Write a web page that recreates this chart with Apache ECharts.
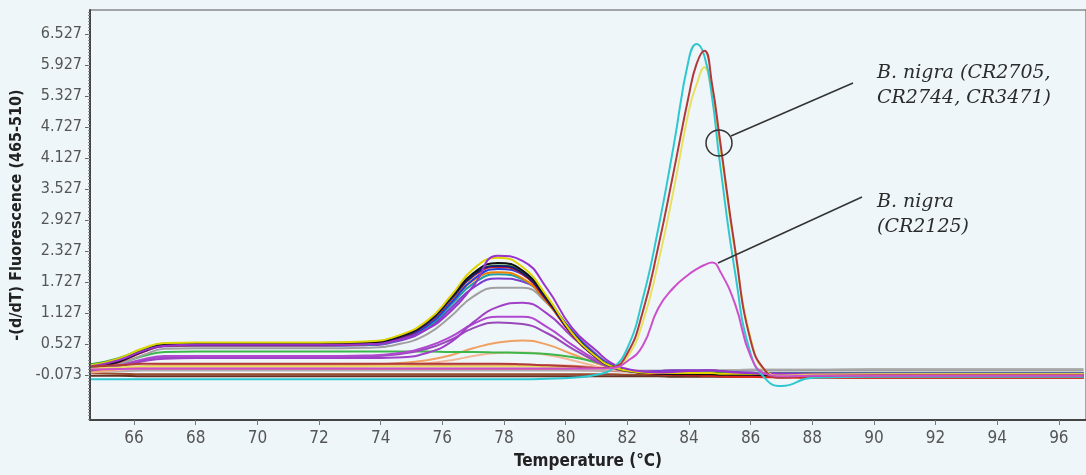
<!DOCTYPE html>
<html>
<head>
<meta charset="utf-8">
<script src="https://cdn.jsdelivr.net/npm/echarts@6/dist/echarts.min.js"></script>
<style>
html, body { margin: 0; padding: 0; background: #eff6fa; }
#chart { width: 1086px; height: 475px; }
</style>
</head>
<body>
<div id="chart"></div>
<script>
// melting temperatures (°C) shared by every curve
var temps = [64.6, 65.5, 66.3, 67.0, 68, 70, 72, 73.5, 74.5, 75.5, 76.3, 77, 77.8, 78.6, 79.4, 80.2, 81, 81.5,
	82, 82.5, 83, 83.5, 84, 84.25, 84.5, 84.75, 85, 85.5, 86, 86.5, 87, 88, 90, 93, 96.8];

// tick labels
var xTicks = [66, 68, 70, 72, 74, 76, 78, 80, 82, 84, 86, 88, 90, 92, 94, 96];
var yTicks = [-0.073, 0.527, 1.127, 1.727, 2.327, 2.927, 3.527, 4.127, 4.727, 5.327, 5.927, 6.527];

// -(d/dT) fluorescence, one array per sample
var salmonBase = [0.05, 0.08, 0.10, 0.12, 0.12, 0.12, 0.12, 0.12, 0.12, 0.12, 0.12, 0.12, 0.12, 0.12, 0.12, 0.11, 0.08, 0.05,
	0.02, 0.00, -0.02, -0.03, -0.04, -0.04, -0.05, -0.05, -0.06, -0.07, -0.08, -0.09, -0.10, -0.10, -0.10, -0.10, -0.10];
var roseBase = [0.00, 0.02, 0.03, 0.04, 0.04, 0.04, 0.04, 0.04, 0.04, 0.04, 0.04, 0.04, 0.04, 0.04, 0.04, 0.03, 0.02, 0.01,
	0.00, -0.01, -0.02, -0.02, -0.02, -0.02, -0.03, -0.03, -0.03, -0.03, -0.03, -0.03, -0.04, -0.04, -0.04, -0.04, -0.04];
var brownBase = [-0.03, -0.04, -0.05, -0.05, -0.05, -0.05, -0.05, -0.05, -0.05, -0.05, -0.05, -0.05, -0.05, -0.05, -0.05, -0.05, -0.05, -0.05,
	-0.06, -0.06, -0.07, -0.07, -0.08, -0.08, -0.08, -0.08, -0.09, -0.09, -0.10, -0.10, -0.11, -0.11, -0.12, -0.12, -0.12];
var darkBrownBase = [-0.08, -0.08, -0.09, -0.09, -0.09, -0.09, -0.09, -0.09, -0.09, -0.09, -0.09, -0.09, -0.09, -0.09, -0.09, -0.09, -0.09, -0.09,
	-0.09, -0.09, -0.09, -0.10, -0.10, -0.10, -0.10, -0.10, -0.10, -0.10, -0.10, -0.10, -0.10, -0.10, -0.10, -0.10, -0.10];
var grayBase = [0.00, 0.01, 0.02, 0.02, 0.02, 0.02, 0.02, 0.02, 0.02, 0.02, 0.02, 0.02, 0.02, 0.02, 0.02, 0.02, 0.02, 0.02,
	0.02, 0.02, 0.02, 0.03, 0.03, 0.03, 0.03, 0.03, 0.03, 0.03, 0.04, 0.04, 0.04, 0.04, 0.05, 0.05, 0.05];
var peachA = [0.00, 0.05, 0.10, 0.12, 0.12, 0.12, 0.12, 0.13, 0.16, 0.22, 0.32, 0.45, 0.56, 0.60, 0.52, 0.34, 0.16, 0.07,
	0.02, -0.01, -0.02, -0.03, -0.03, -0.03, -0.03, -0.03, -0.04, -0.05, -0.06, -0.07, -0.08, -0.08, -0.09, -0.09, -0.09];
var peachB = [-0.02, 0.03, 0.07, 0.09, 0.09, 0.09, 0.09, 0.10, 0.12, 0.16, 0.22, 0.30, 0.36, 0.37, 0.32, 0.22, 0.10, 0.04,
	0.01, -0.02, -0.03, -0.03, -0.04, -0.04, -0.04, -0.04, -0.05, -0.05, -0.06, -0.06, -0.06, -0.06, -0.06, -0.06, -0.06];
var greenB = [0.05, 0.15, 0.30, 0.38, 0.39, 0.39, 0.39, 0.39, 0.39, 0.39, 0.38, 0.38, 0.37, 0.36, 0.34, 0.28, 0.18, 0.10,
	0.03, -0.01, -0.03, -0.03, -0.03, -0.03, -0.03, -0.03, -0.03, -0.03, -0.03, -0.03, -0.03, -0.03, -0.03, -0.03, -0.03];
var purpleB = [0.02, 0.10, 0.20, 0.25, 0.26, 0.26, 0.26, 0.26, 0.27, 0.36, 0.58, 0.95, 1.25, 1.33, 1.12, 0.68, 0.28, 0.11,
	0.03, 0.00, 0.01, 0.02, 0.02, 0.02, 0.02, 0.02, 0.01, -0.01, -0.03, -0.05, -0.06, -0.07, -0.07, -0.07, -0.07];
var purpleC = [0.04, 0.12, 0.24, 0.30, 0.30, 0.30, 0.30, 0.31, 0.35, 0.48, 0.68, 0.92, 1.06, 1.06, 0.86, 0.52, 0.22, 0.08,
	0.01, -0.02, -0.02, -0.02, -0.02, -0.02, -0.02, -0.02, -0.03, -0.03, -0.04, -0.05, -0.06, -0.06, -0.07, -0.07, -0.07];
var purpleD = [0.03, 0.11, 0.22, 0.28, 0.28, 0.28, 0.28, 0.29, 0.33, 0.44, 0.62, 0.84, 0.95, 0.92, 0.74, 0.45, 0.19, 0.07,
	0.01, -0.02, -0.03, -0.03, -0.03, -0.03, -0.03, -0.03, -0.04, -0.05, -0.06, -0.07, -0.08, -0.08, -0.09, -0.09, -0.09];
var grayA = [0.05, 0.15, 0.32, 0.44, 0.45, 0.45, 0.45, 0.46, 0.52, 0.72, 1.08, 1.45, 1.62, 1.62, 1.32, 0.80, 0.34, 0.13,
	0.03, 0.00, 0.00, 0.01, 0.01, 0.01, 0.01, 0.01, 0.01, 0.01, 0.02, 0.02, 0.02, 0.02, 0.02, 0.02, 0.02];
var violetA = [0.09, 0.20, 0.38, 0.49, 0.50, 0.50, 0.50, 0.51, 0.58, 0.82, 1.24, 1.62, 1.80, 1.74, 1.35, 0.78, 0.32, 0.12,
	0.03, 0.00, 0.01, 0.02, 0.02, 0.02, 0.02, 0.02, 0.01, -0.01, -0.02, -0.03, -0.03, -0.03, -0.03, -0.03, -0.03];
var tealA = [0.10, 0.22, 0.41, 0.50, 0.51, 0.51, 0.51, 0.52, 0.60, 0.85, 1.30, 1.70, 1.88, 1.78, 1.34, 0.74, 0.29, 0.11,
	0.02, -0.02, -0.03, -0.03, -0.03, -0.03, -0.03, -0.03, -0.03, -0.04, -0.04, -0.04, -0.04, -0.04, -0.04, -0.04, -0.04];
var orangeA = [0.11, 0.23, 0.42, 0.52, 0.53, 0.53, 0.53, 0.55, 0.63, 0.90, 1.35, 1.76, 1.92, 1.80, 1.34, 0.72, 0.27, 0.10,
	0.02, -0.02, -0.04, -0.05, -0.06, -0.06, -0.07, -0.07, -0.08, -0.09, -0.10, -0.10, -0.11, -0.11, -0.11, -0.11, -0.11];
var blueA = [0.09, 0.21, 0.41, 0.52, 0.53, 0.53, 0.53, 0.54, 0.62, 0.88, 1.34, 1.78, 1.98, 1.88, 1.40, 0.78, 0.30, 0.11,
	0.02, -0.02, -0.03, -0.03, -0.03, -0.03, -0.04, -0.04, -0.04, -0.04, -0.05, -0.05, -0.05, -0.05, -0.05, -0.05, -0.05];
var redA = [0.06, 0.18, 0.38, 0.50, 0.51, 0.51, 0.51, 0.53, 0.63, 0.92, 1.40, 1.84, 2.02, 1.88, 1.36, 0.72, 0.26, 0.09,
	0.01, -0.03, -0.05, -0.06, -0.07, -0.07, -0.08, -0.08, -0.09, -0.10, -0.10, -0.11, -0.11, -0.12, -0.12, -0.12, -0.12];
var greenA = [0.14, 0.26, 0.44, 0.54, 0.55, 0.55, 0.55, 0.57, 0.67, 0.94, 1.42, 1.86, 2.05, 1.92, 1.40, 0.74, 0.27, 0.09,
	0.01, -0.02, -0.03, -0.03, -0.02, -0.02, -0.02, -0.02, -0.03, -0.03, -0.04, -0.04, -0.04, -0.04, -0.04, -0.04, -0.04];
var navyA = [0.07, 0.19, 0.39, 0.51, 0.52, 0.52, 0.52, 0.54, 0.64, 0.93, 1.42, 1.86, 2.04, 1.90, 1.38, 0.73, 0.27, 0.09,
	0.02, -0.02, -0.03, -0.04, -0.04, -0.04, -0.04, -0.04, -0.04, -0.05, -0.05, -0.05, -0.06, -0.06, -0.06, -0.06, -0.06];
var blackA = [0.08, 0.20, 0.40, 0.52, 0.53, 0.53, 0.53, 0.55, 0.66, 0.96, 1.45, 1.90, 2.10, 1.95, 1.42, 0.76, 0.28, 0.10,
	0.02, -0.02, -0.04, -0.05, -0.05, -0.05, -0.05, -0.05, -0.06, -0.06, -0.06, -0.07, -0.07, -0.08, -0.08, -0.08, -0.08];
var yellowA = [0.12, 0.25, 0.45, 0.55, 0.56, 0.56, 0.56, 0.58, 0.68, 0.98, 1.48, 1.98, 2.20, 2.02, 1.45, 0.75, 0.28, 0.10,
	0.02, -0.02, -0.03, -0.03, -0.03, -0.03, -0.03, -0.03, -0.04, -0.04, -0.04, -0.04, -0.05, -0.05, -0.05, -0.05, -0.05];
var purpleTop = [0.10, 0.22, 0.40, 0.50, 0.52, 0.52, 0.52, 0.53, 0.60, 0.82, 1.18, 1.65, 2.24, 2.14, 1.60, 0.85, 0.40, 0.16,
	0.05, 0.00, -0.02, -0.01, 0.01, 0.01, 0.02, 0.02, 0.01, -0.02, -0.03, -0.04, -0.04, -0.05, -0.05, -0.06, -0.06];
// B. nigra samples
var nigraYellow = [0.06, 0.08, 0.10, 0.10, 0.10, 0.10, 0.10, 0.10, 0.10, 0.10, 0.10, 0.10, 0.10, 0.10, 0.09, 0.08, 0.06, 0.06,
	0.28, 0.95, 2.10, 3.50, 5.05, 5.55, 5.88, 5.35, 4.40, 2.30, 0.65, 0.00, -0.08, -0.06, -0.05, -0.05, -0.05];
var nigraCyan = [-0.15, -0.15, -0.15, -0.15, -0.15, -0.15, -0.15, -0.15, -0.15, -0.15, -0.15, -0.15, -0.15, -0.15, -0.14, -0.12, -0.06, 0.05,
	0.45, 1.40, 2.75, 4.35, 6.05, 6.33, 6.10, 5.30, 4.05, 1.90, 0.35, -0.15, -0.28, -0.12, -0.10, -0.10, -0.10];
var nigraRed = [0.10, 0.12, 0.15, 0.15, 0.15, 0.15, 0.15, 0.15, 0.15, 0.15, 0.15, 0.15, 0.15, 0.14, 0.12, 0.10, 0.07, 0.08,
	0.35, 1.15, 2.40, 3.85, 5.35, 5.95, 6.20, 5.55, 4.50, 2.35, 0.60, 0.00, -0.12, -0.08, -0.07, -0.07, -0.07];
var nigraCR2125 = [0.04, 0.05, 0.06, 0.06, 0.06, 0.06, 0.06, 0.06, 0.06, 0.06, 0.06, 0.06, 0.06, 0.06, 0.06, 0.06, 0.06, 0.07,
	0.20, 0.50, 1.22, 1.62, 1.88, 1.98, 2.06, 2.11, 1.95, 1.30, 0.30, -0.05, -0.09, -0.08, -0.08, -0.08, -0.08];

var curves = [
	[salmonBase, '#e8907a'], [roseBase, '#e06a6a'], [brownBase, '#9a4a2a'], [darkBrownBase, '#6a3020'],
	[grayBase, '#b0b0b0'], [peachB, '#f4b898'], [peachA, '#f0a060'], [greenB, '#3cb84a'],
	[purpleD, '#9848b8'], [purpleC, '#b048d0'], [purpleB, '#a040c8'], [grayA, '#a0a0a0'],
	[violetA, '#7a3ccc'], [tealA, '#1fa0a0'], [orangeA, '#f08000'], [blueA, '#2040e0'],
	[redA, '#e02020'], [greenA, '#2ca02c'], [navyA, '#1a1a7a'], [blackA, '#111111'],
	[yellowA, '#e0d400'], [purpleTop, '#9933cc'],
	[nigraYellow, '#e8e060'], [nigraCyan, '#30c8d0'], [nigraRed, '#b03a3a'], [nigraCR2125, '#cc50cc']
];

var yMin = -0.936, yMax = 6.987;
var minorTicks = [];
for (var v = -0.913; v < yMax; v += 0.06) {
	minorTicks.push(+v.toFixed(3));
}

var series = curves.map(function(c) {
	return {
		type : 'line',
		smooth : true,
		symbol : 'none',
		data : temps.map(function(t, i) {
			return [ t, c[0][i] ];
		}),
		lineStyle : {
			color : c[1],
			width : 2
		}
	};
});

var labelFont = 'DejaVu Sans Condensed';
var noteFont = 'italic 19px "DejaVu Serif"';
var option = {
	backgroundColor : '#eff6fa',
	animation : false,
	grid : {
		left : 90,
		right : 0,
		top : 10,
		bottom : 52,
		show : true,
		borderColor : '#555',
		borderWidth : 1
	},
	xAxis : {
		type : 'value',
		min : 64.57,
		max : 96.88,
		name : 'Temperature (°C)',
		nameLocation : 'middle',
		nameGap : 33,
		nameTextStyle : {
			fontFamily : labelFont,
			fontWeight : 'bold',
			fontSize : 17,
			color : '#222'
		},
		axisLine : {
			onZero : false,
			lineStyle : {
				color : '#444',
				width : 2
			}
		},
		axisTick : {
			customValues : xTicks,
			length : 5,
			lineStyle : {
				color : '#777'
			}
		},
		axisLabel : {
			customValues : xTicks,
			margin : 10,
			fontFamily : labelFont,
			fontSize : 17,
			color : '#555'
		},
		splitLine : {
			show : false
		}
	},
	yAxis : [ {
		type : 'value',
		min : yMin,
		max : yMax,
		name : '-(d/dT) Fluorescence (465-510)',
		nameLocation : 'middle',
		nameRotate : 90,
		nameGap : 60,
		nameTextStyle : {
			fontFamily : labelFont,
			fontWeight : 'bold',
			fontSize : 16,
			color : '#222'
		},
		axisLine : {
			show : true,
			onZero : false,
			lineStyle : {
				color : '#444',
				width : 2
			}
		},
		axisTick : {
			show : true,
			customValues : yTicks,
			length : 5,
			lineStyle : {
				color : '#666'
			}
		},
		axisLabel : {
			customValues : yTicks,
			margin : 8,
			fontFamily : labelFont,
			fontSize : 16,
			color : '#555',
			formatter : function(v) {
				return v.toFixed(3);
			}
		},
		splitLine : {
			show : false
		}
	}, {
		type : 'value',
		min : yMin,
		max : yMax,
		position : 'left',
		axisLine : {
			show : false
		},
		axisTick : {
			show : true,
			customValues : minorTicks,
			length : 2,
			lineStyle : {
				color : '#888'
			}
		},
		axisLabel : {
			show : false
		},
		splitLine : {
			show : false
		}
	} ],
	series : series,
	graphic : [ {
		type : 'circle',
		shape : { cx : 719, cy : 143, r : 13 },
		style : { fill : 'none', stroke : '#333', lineWidth : 1.5 },
		z : 100
	}, {
		type : 'line',
		shape : { x1 : 731, y1 : 136, x2 : 853, y2 : 83 },
		style : { stroke : '#333', lineWidth : 1.5 },
		z : 100
	}, {
		type : 'line',
		shape : { x1 : 718, y1 : 263, x2 : 862, y2 : 197 },
		style : { stroke : '#333', lineWidth : 1.5 },
		z : 100
	}, {
		type : 'text',
		x : 877,
		y : 61,
		style : {
			text : 'B. nigra (CR2705,\nCR2744, CR3471)',
			font : noteFont,
			lineHeight : 25,
			fill : '#2b2b2b'
		},
		z : 100
	}, {
		type : 'text',
		x : 877,
		y : 190,
		style : {
			text : 'B. nigra\n(CR2125)',
			font : noteFont,
			lineHeight : 25,
			fill : '#2b2b2b'
		},
		z : 100
	} ]
};

echarts.init(document.getElementById('chart')).setOption(option);
</script>
</body>
</html>
